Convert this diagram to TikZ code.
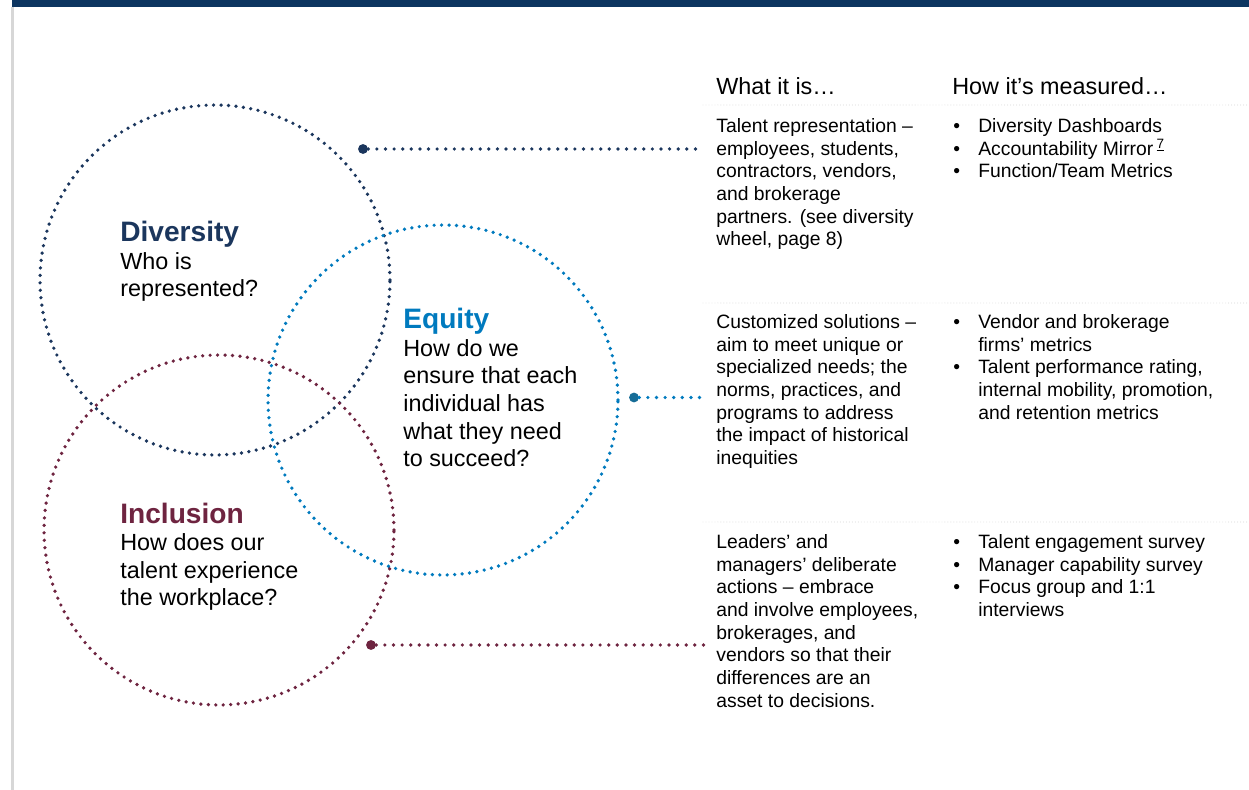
\documentclass[tikz,border=0pt]{standalone}
\usepackage{fontspec}
\setmainfont{Liberation Sans}
\definecolor{topbar}{RGB}{12,53,96}
\definecolor{divcol}{RGB}{27,54,93}
\definecolor{eqcol}{RGB}{0,122,190}
\definecolor{eqdark}{RGB}{22,108,150}
\definecolor{inccol}{RGB}{110,36,64}
\definecolor{rulegray}{RGB}{205,205,205}
\definecolor{edgegray}{RGB}{215,215,215}
\newcommand{\headfont}{\fontsize{13.3}{16}\selectfont}
\newcommand{\bodyfont}{\fontsize{11}{12.93}\selectfont}
\newcommand{\titlefont}{\fontsize{16}{15.7}\selectfont\bfseries}
\newcommand{\subfont}{\fontsize{13.3}{15.7}\selectfont}
\newcommand{\itm}[1]{\makebox[14.2pt][l]{\textbullet}#1}
\newcommand{\cnt}[1]{\hspace*{14.2pt}#1}
\tikzset{
  ring/.style={circle, draw, minimum size=7cm, line width=2.1pt, line cap=round, dash pattern=on 0pt off 4.25pt},
  linkdots/.style={line width=2.1pt, line cap=round, dash pattern=on 0pt off 4.9pt},
  bigdot/.style={circle, minimum size=5.6pt},
  sepline/.style={rulegray, line width=0.5pt, line cap=round, dash pattern=on 0pt off 1.7pt},
  label/.style={anchor=north west, align=left},
  body/.style={label, font=\bodyfont},
  head/.style={anchor=north west, font=\headfont}
}
\begin{document}
\begin{tikzpicture}[x=0.02cm, y=-0.02cm]
		\tikzstyle{every node}+=[inner sep=0pt]
		\useasboundingbox (0,0) rectangle (1249,790);
		\fill [topbar] (12,0) rectangle (1249,7);
		\draw [edgegray, line width=1.2pt] (12.5,7) -- (12.5,790);
		\node [ring, divcol] (div) at (215,280) {};
		\node [ring, eqcol] (eq) at (443,400) {};
		\node [ring, inccol] (inc) at (219,530) {};
		\node [label, font=\subfont] (divtxt) at (120,221) {{\titlefont\color{divcol}Diversity}\\Who is\\represented?};
		\node [label, font=\subfont] (eqtxt) at (403,308) {{\titlefont\color{eqcol}Equity}\\How do we\\ensure that each\\individual has\\what they need\\to succeed?};
		\node [label, font=\subfont] (inctxt) at (120,502.5) {{\titlefont\color{inccol}Inclusion}\\How does our\\talent experience\\the workplace?};
		\node [bigdot, fill=divcol] (divdot) at (363,149) {};
		\coordinate (divend) at (702,149);
		\draw [linkdots, divcol] (divdot) -- (divend);
		\node [bigdot, fill=eqdark] (eqdot) at (634,397.5) {};
		\coordinate (eqend) at (702,397.5);
		\draw [linkdots, eqcol] (eqdot) -- (eqend);
		\node [bigdot, fill=inccol] (incdot) at (371,645) {};
		\coordinate (incend) at (704,645);
		\draw [linkdots, inccol] (incdot) -- (incend);
		\node [head] (whathd) at (716,77.5) {What it is…};
		\node [head] (howhd) at (952,77.5) {How it’s measured…};
		\draw [sepline] (703,105) -- (1249,105);
		\draw [sepline] (703,303) -- (1249,303);
		\draw [sepline] (703,522) -- (1249,522);
		\node [body] (what1) at (716,118) {Talent representation –\\employees, students,\\contractors, vendors,\\and brokerage\\partners. (see diversity\\wheel, page 8)};
		\node [body] (what2) at (716,314) {Customized solutions –\\aim to meet unique or\\specialized needs; the\\norms, practices, and\\programs to address\\the impact of historical\\inequities};
		\node [body] (what3) at (716,534) {Leaders’ and\\managers’ deliberate\\actions – embrace\\and involve employees,\\brokerages, and\\vendors so that their\\differences are an\\asset to decisions.};
		\node [body] (how1) at (953,118) {\itm{Diversity Dashboards}\\\itm{Accountability Mirror\,\textsuperscript{\underline{7}}}\\\itm{Function/Team Metrics}};
		\node [body] (how2) at (953,314) {\itm{Vendor and brokerage}\\\cnt{firms’ metrics}\\\itm{Talent performance rating,}\\\cnt{internal mobility, promotion,}\\\cnt{and retention metrics}};
		\node [body] (how3) at (953,534) {\itm{Talent engagement survey}\\\itm{Manager capability survey}\\\itm{Focus group and 1:1}\\\cnt{interviews}};
	\end{tikzpicture}
\end{document}
